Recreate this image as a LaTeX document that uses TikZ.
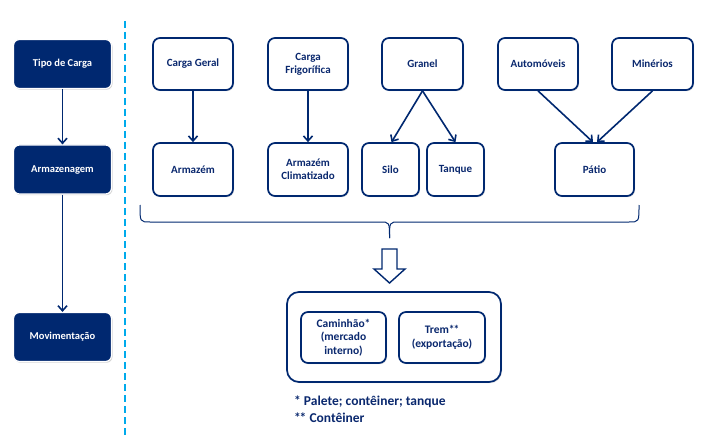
\documentclass[tikz,border=0pt]{standalone}
\usepackage{fontspec}
\setmainfont{Carlito}
\usetikzlibrary{arrows.meta,shadows}
\definecolor{navy}{RGB}{0,40,112}
\definecolor{txtblue}{RGB}{10,40,110}
\definecolor{dashblue}{RGB}{0,170,235}
\newcommand{\twoast}{*\kern-1.2pt*}
\begin{document}
\begin{tikzpicture}[x=1pt,y=-1pt,
  lbox/.style={rectangle, rounded corners=6pt, fill=navy, draw=white, line width=1.2pt,
    drop shadow={opacity=0.35,shadow xshift=1pt,shadow yshift=-1.2pt},
    minimum width=98pt, minimum height=49pt, text=white,
    font=\fontsize{10.5}{12.5}\selectfont\bfseries, align=center, inner sep=1pt},
  wbox/.style={rectangle, rounded corners=7pt, fill=white, draw=navy, line width=1.7pt,
    drop shadow={opacity=0.25,shadow xshift=1pt,shadow yshift=-1.2pt},
    text=txtblue, font=\fontsize{11}{13}\selectfont\bfseries, align=center, inner sep=1pt},
  conn/.style={draw=navy, line width=1.6pt, -{Straight Barb[length=5pt,width=9pt,line width=1.6pt]}},
  fnote/.style={anchor=west, text=txtblue, font=\fontsize{13.5}{16}\selectfont\bfseries, inner sep=0pt},
]
\useasboundingbox (0,0) rectangle (708,446);
\fill[white] (0,0) rectangle (708,446);

% left column
\node[lbox] (tipo) at (62.5,64) {Tipo de Carga};
\node[lbox] (arm) at (62.5,169.5) {Armazenagem};
\node[lbox] (mov) at (62.5,337) {Movimentação};
\draw[conn] (tipo) -- (arm);
\draw[conn] (arm) -- (mov);

% dashed separator
\coordinate (dtop) at (125,21);
\coordinate (dbot) at (125,437);
\draw[dashblue, line width=1.5pt, dash pattern=on 7pt off 4pt] (dtop) -- (dbot);

% top row
\node[wbox, minimum width=80pt, minimum height=52pt] (cg) at (193,64) {Carga Geral};
\node[wbox, minimum width=80pt, minimum height=52pt] (cf) at (308,64) {Carga\\Frigorífica};
\node[wbox, minimum width=81pt, minimum height=52pt] (gr) at (422.5,64) {Granel};
\node[wbox, minimum width=80pt, minimum height=52pt] (au) at (538,64) {Automóveis};
\node[wbox, minimum width=81pt, minimum height=52pt] (mi) at (652.5,64) {Minérios};

% second row
\node[wbox, minimum width=80pt, minimum height=53pt] (az) at (193,169.5) {Armazém};
\node[wbox, minimum width=80pt, minimum height=53pt] (ac) at (308,169.5) {Armazém\\Climatizado};
\node[wbox, minimum width=57pt, minimum height=53pt] (si) at (390.5,169.5) {Silo};
\node[wbox, minimum width=57pt, minimum height=53pt] (ta) at (455.5,169.5) {Tanque};
\node[wbox, minimum width=79pt, minimum height=53pt] (pa) at (594.5,169.5) {Pátio};

\draw[conn] (cg) -- (az);
\draw[conn] (cf) -- (ac);
\draw[conn] (gr.south) -- ([xshift=1pt]si.north);
\draw[conn] (gr.south) -- (ta.north);
\draw[conn] (au.south) -- ([xshift=-1.5pt]pa.north);
\draw[conn] (mi.south) -- ([xshift=2.5pt]pa.north);

% brace
\coordinate (bl) at (140,205);
\coordinate (br) at (639,205);
\coordinate (bm) at (389.5,238);
\draw[navy, line width=1pt]
  (bl) .. controls (140,222) and (140,222) .. (150,222) -- (380,222)
  .. controls (389.5,222) and (389.5,222) .. (bm);
\draw[navy, line width=1pt]
  (br) .. controls (639,222) and (639,222) .. (629,222) -- (399,222)
  .. controls (389.5,222) and (389.5,222) .. (bm);

% hollow arrow
\draw[navy, line width=1.4pt, fill=white]
  (382,249) -- (397,249) -- (397,269) -- (405,269) -- (389.5,283)
  -- (374,269) -- (382,269) -- cycle;

% movement box
\node[wbox, rounded corners=12pt, minimum width=214pt, minimum height=90pt] (mbox) at (394,337) {};
\node[wbox, minimum width=85pt, minimum height=51pt, font=\fontsize{11.5}{13.5}\selectfont\bfseries] (cam) at (343.5,337.5) {Caminhão*\\(mercado\\interno)};
\node[wbox, minimum width=86pt, minimum height=51pt, font=\fontsize{11.5}{13.5}\selectfont\bfseries] (trem) at (442,337.5) {Trem\twoast\\(exportação)};

% footnotes
\node[fnote] (fn1) at (294,402) {* Palete; contêiner; tanque};
\node[fnote] (fn2) at (294,418) {\twoast{} Contêiner};
\end{tikzpicture}
\end{document}
